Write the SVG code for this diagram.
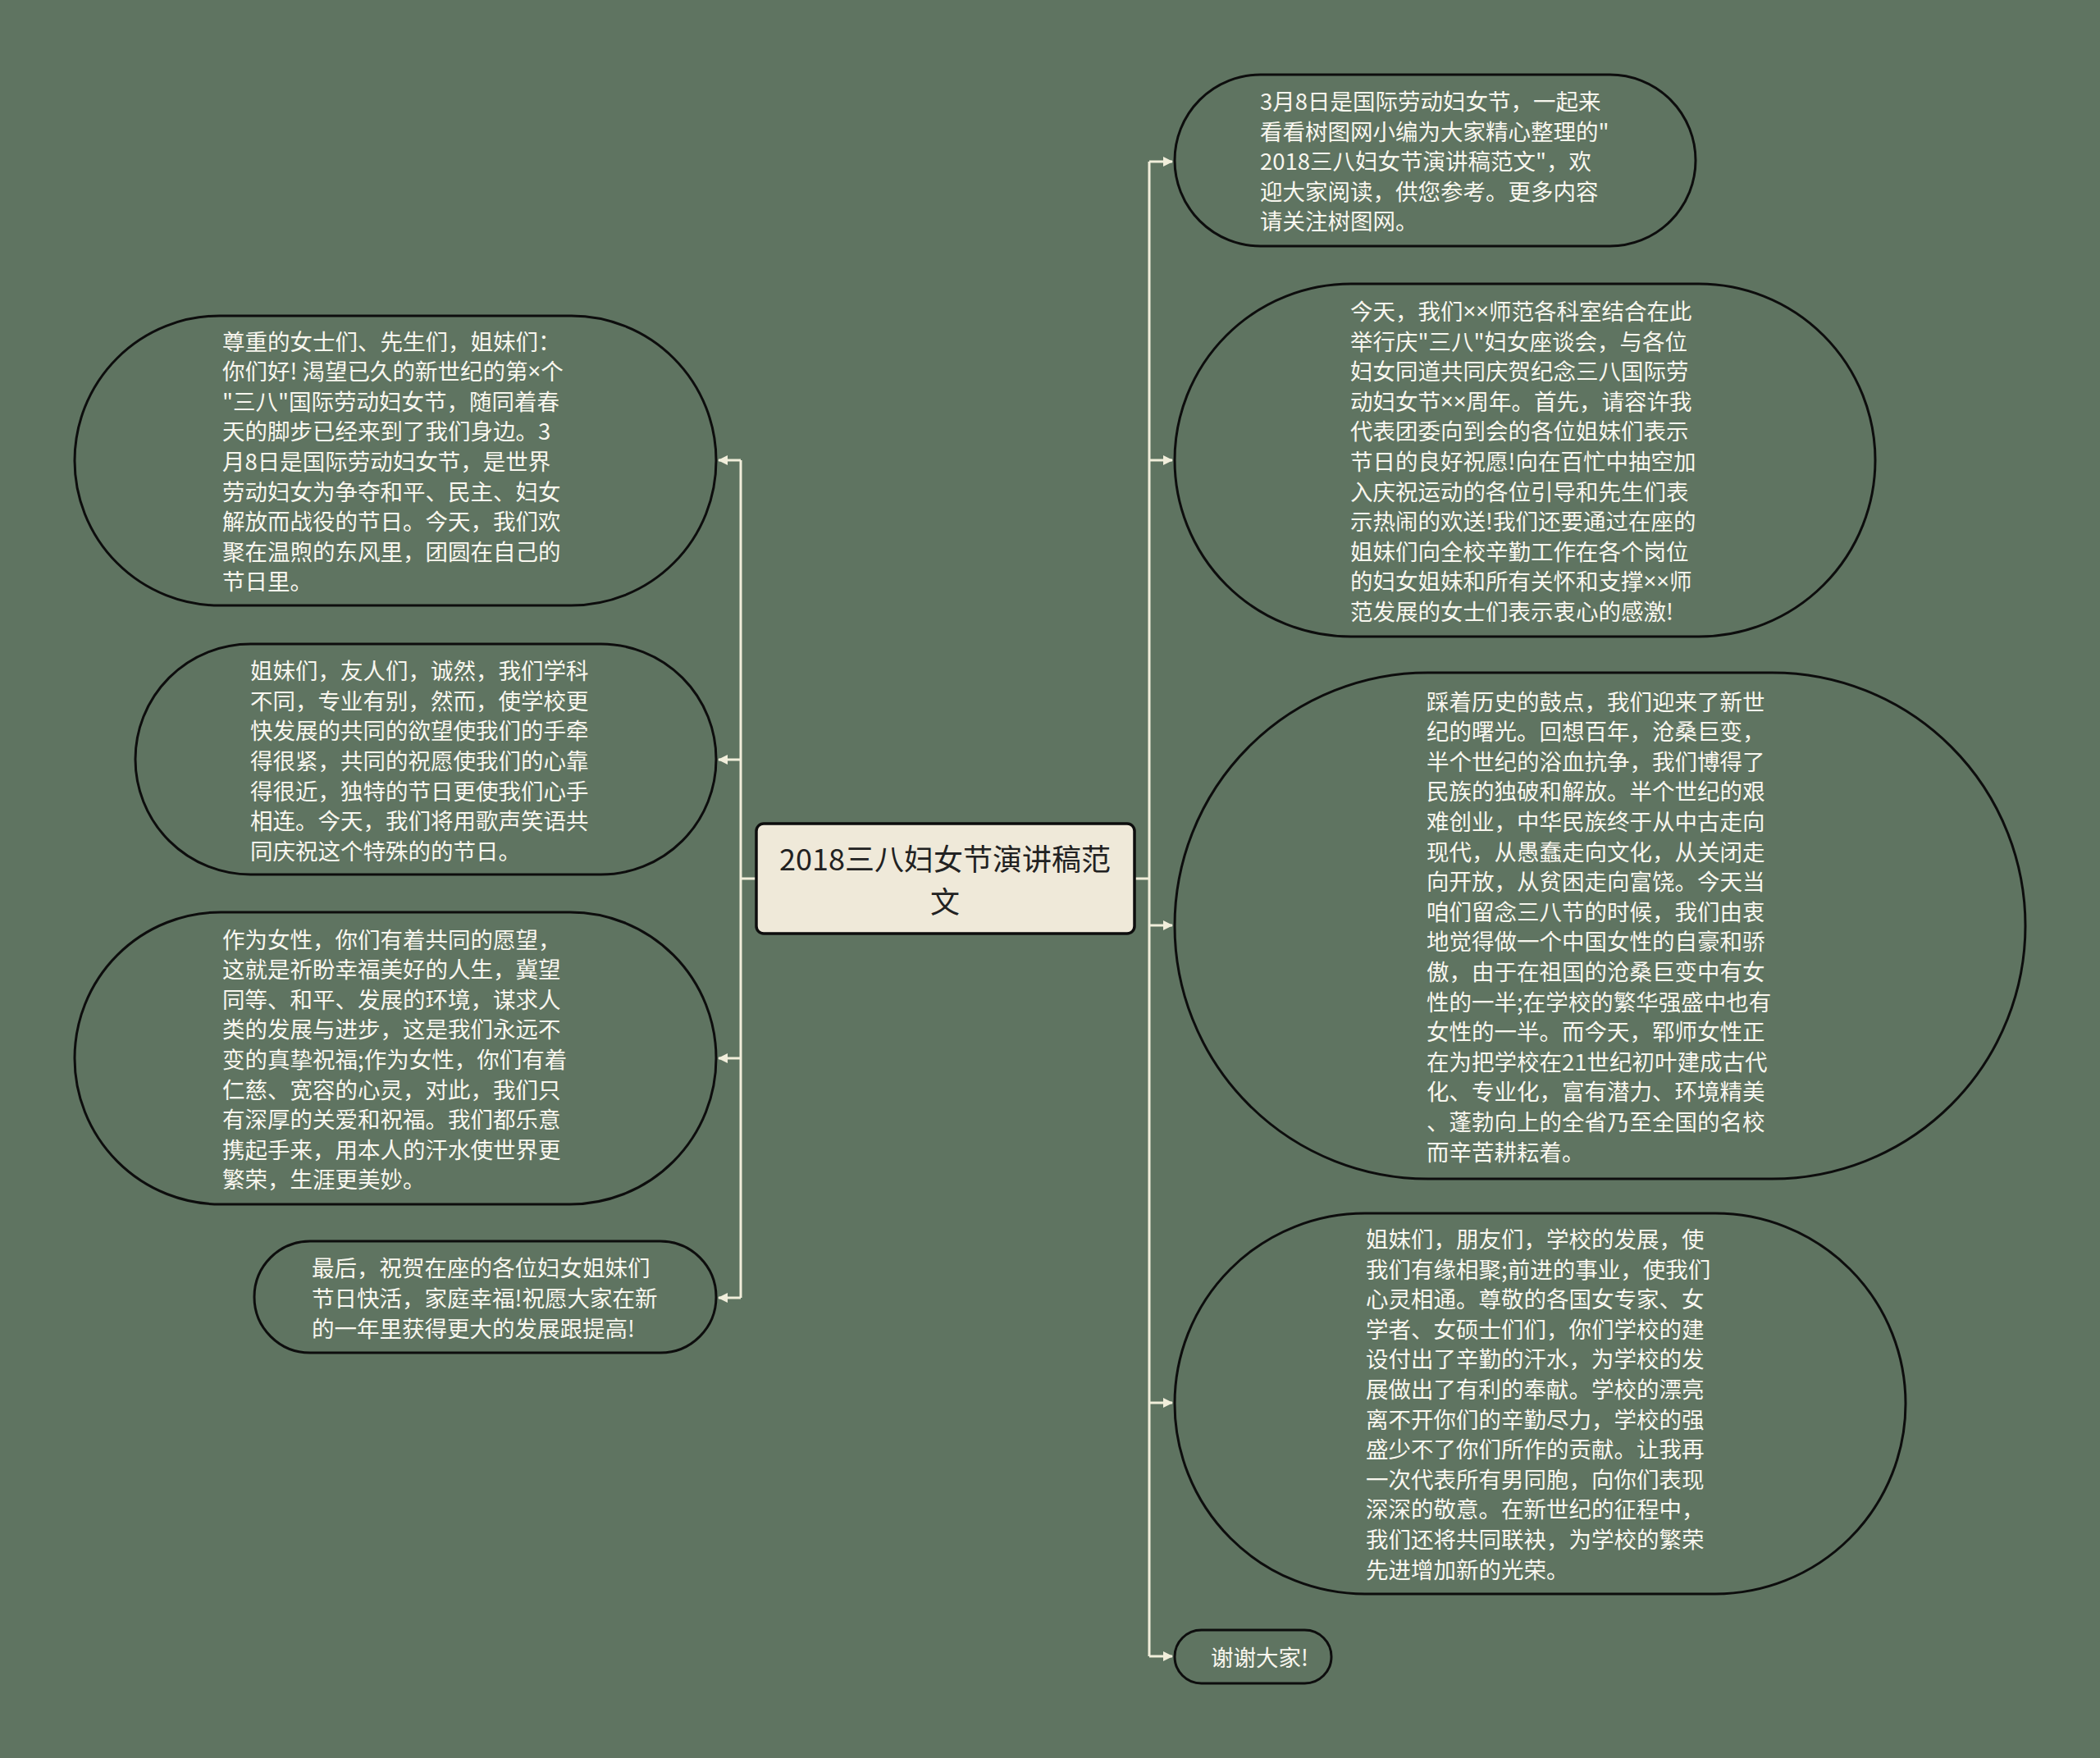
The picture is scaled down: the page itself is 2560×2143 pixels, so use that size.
<svg xmlns="http://www.w3.org/2000/svg" width="2560" height="2143" viewBox="0 0 2560 2143">
<style>
.bg{fill:#5f7461}
.node{fill:#5f7461;stroke:#0d0d0d;stroke-width:3}
.root{fill:#efe9d9;stroke:#0d0d0d;stroke-width:3.5}
.t{font-family:"Noto Sans CJK SC","Noto Sans",sans-serif;font-size:27.5px;fill:#f8f6ee;dominant-baseline:central}
.x{font-family:"Noto Sans","DejaVu Sans",sans-serif}
.rt{font-family:"Noto Sans CJK SC","Noto Sans",sans-serif;font-size:36px;fill:#222;dominant-baseline:central;text-anchor:middle}
.c{fill:none;stroke:#f1eedb;stroke-width:3}
</style>
<defs>
<marker id="ah" viewBox="0 0 12 12" refX="11" refY="6" markerWidth="12" markerHeight="12" markerUnits="userSpaceOnUse" orient="auto">
<path d="M0,0 L12,6 L0,12 Z" fill="#f1eedb"/>
</marker>
</defs>
<rect class="bg" x="0" y="0" width="2560" height="2143"/>
<g id="connectors">
<path class="c" d="M1383,1071 H1401"/>
<path class="c" d="M1401,197 V2019"/>
<path class="c" d="M1401,197 H1429" marker-end="url(#ah)"/>
<path class="c" d="M1401,561 H1429" marker-end="url(#ah)"/>
<path class="c" d="M1401,1128 H1429" marker-end="url(#ah)"/>
<path class="c" d="M1401,1710 H1429" marker-end="url(#ah)"/>
<path class="c" d="M1401,2019 H1429" marker-end="url(#ah)"/>
<path class="c" d="M922,1071 H903"/>
<path class="c" d="M903,561 V1582"/>
<path class="c" d="M903,561 H876" marker-end="url(#ah)"/>
<path class="c" d="M903,926 H876" marker-end="url(#ah)"/>
<path class="c" d="M903,1290 H876" marker-end="url(#ah)"/>
<path class="c" d="M903,1582 H876" marker-end="url(#ah)"/>
</g>
<g id="root">
<rect class="root" x="922" y="1004" width="461" height="134" rx="9"/>
<text class="rt"><tspan x="1152" y="1045">2018三八妇女节演讲稿范</tspan><tspan x="1152" y="1097">文</tspan></text>
</g>
<g id="r1">
<rect class="node" x="1432" y="91" width="635" height="209" rx="104.5"/>
<text class="t"><tspan x="1536" y="122">3月8日是国际劳动妇女节，一起来</tspan><tspan x="1536" y="158.6">看看树图网小编为大家精心整理的"</tspan><tspan x="1536" y="195.2">2018三八妇女节演讲稿范文"，欢</tspan><tspan x="1536" y="231.8">迎大家阅读，供您参考。更多内容</tspan><tspan x="1536" y="268.4">请关注树图网。</tspan></text>
</g>
<g id="r2">
<rect class="node" x="1432" y="346" width="854" height="430" rx="215"/>
<text class="t"><tspan x="1646" y="378">今天，我们<tspan class="x">××</tspan>师范各科室结合在此</tspan><tspan x="1646" y="414.6">举行庆"三八"妇女座谈会，与各位</tspan><tspan x="1646" y="451.2">妇女同道共同庆贺纪念三八国际劳</tspan><tspan x="1646" y="487.8">动妇女节<tspan class="x">××</tspan>周年。首先，请容许我</tspan><tspan x="1646" y="524.4">代表团委向到会的各位姐妹们表示</tspan><tspan x="1646" y="561">节日的良好祝愿!向在百忙中抽空加</tspan><tspan x="1646" y="597.6">入庆祝运动的各位引导和先生们表</tspan><tspan x="1646" y="634.2">示热闹的欢送!我们还要通过在座的</tspan><tspan x="1646" y="670.8">姐妹们向全校辛勤工作在各个岗位</tspan><tspan x="1646" y="707.4">的妇女姐妹和所有关怀和支撑<tspan class="x">××</tspan>师</tspan><tspan x="1646" y="744">范发展的女士们表示衷心的感激!</tspan></text>
</g>
<g id="r3">
<rect class="node" x="1432" y="820" width="1037" height="617" rx="308.5"/>
<text class="t"><tspan x="1739" y="853.5">踩着历史的鼓点，我们迎来了新世</tspan><tspan x="1739" y="890.1">纪的曙光。回想百年，沧桑巨变，</tspan><tspan x="1739" y="926.7">半个世纪的浴血抗争，我们博得了</tspan><tspan x="1739" y="963.3">民族的独破和解放。半个世纪的艰</tspan><tspan x="1739" y="999.9">难创业，中华民族终于从中古走向</tspan><tspan x="1739" y="1036.5">现代，从愚蠢走向文化，从关闭走</tspan><tspan x="1739" y="1073.1">向开放，从贫困走向富饶。今天当</tspan><tspan x="1739" y="1109.7">咱们留念三八节的时候，我们由衷</tspan><tspan x="1739" y="1146.3">地觉得做一个中国女性的自豪和骄</tspan><tspan x="1739" y="1182.9">傲，由于在祖国的沧桑巨变中有女</tspan><tspan x="1739" y="1219.5">性的一半;在学校的繁华强盛中也有</tspan><tspan x="1739" y="1256.1">女性的一半。而今天，郓师女性正</tspan><tspan x="1739" y="1292.7">在为把学校在21世纪初叶建成古代</tspan><tspan x="1739" y="1329.3">化、专业化，富有潜力、环境精美</tspan><tspan x="1739" y="1365.9">、蓬勃向上的全省乃至全国的名校</tspan><tspan x="1739" y="1402.5">而辛苦耕耘着。</tspan></text>
</g>
<g id="r4">
<rect class="node" x="1432" y="1479" width="891" height="464" rx="232"/>
<text class="t"><tspan x="1665" y="1509">姐妹们，朋友们，学校的发展，使</tspan><tspan x="1665" y="1545.6">我们有缘相聚;前进的事业，使我们</tspan><tspan x="1665" y="1582.2">心灵相通。尊敬的各国女专家、女</tspan><tspan x="1665" y="1618.8">学者、女硕士们们，你们学校的建</tspan><tspan x="1665" y="1655.4">设付出了辛勤的汗水，为学校的发</tspan><tspan x="1665" y="1692">展做出了有利的奉献。学校的漂亮</tspan><tspan x="1665" y="1728.6">离不开你们的辛勤尽力，学校的强</tspan><tspan x="1665" y="1765.2">盛少不了你们所作的贡献。让我再</tspan><tspan x="1665" y="1801.8">一次代表所有男同胞，向你们表现</tspan><tspan x="1665" y="1838.4">深深的敬意。在新世纪的征程中，</tspan><tspan x="1665" y="1875">我们还将共同联袂，为学校的繁荣</tspan><tspan x="1665" y="1911.6">先进增加新的光荣。</tspan></text>
</g>
<g id="r5">
<rect class="node" x="1432" y="1987" width="191" height="65" rx="32.5"/>
<text class="t"><tspan x="1476" y="2019">谢谢大家!</tspan></text>
</g>
<g id="l1">
<rect class="node" x="91" y="385" width="782" height="353" rx="176.5"/>
<text class="t"><tspan x="271" y="414.6">尊重的女士们、先生们，姐妹们：</tspan><tspan x="271" y="451.2">你们好! 渴望已久的新世纪的第<tspan class="x">×</tspan>个</tspan><tspan x="271" y="487.8">"三八"国际劳动妇女节，随同着春</tspan><tspan x="271" y="524.4">天的脚步已经来到了我们身边。3</tspan><tspan x="271" y="561">月8日是国际劳动妇女节，是世界</tspan><tspan x="271" y="597.6">劳动妇女为争夺和平、民主、妇女</tspan><tspan x="271" y="634.2">解放而战役的节日。今天，我们欢</tspan><tspan x="271" y="670.8">聚在温煦的东风里，团圆在自己的</tspan><tspan x="271" y="707.4">节日里。</tspan></text>
</g>
<g id="l2">
<rect class="node" x="165" y="785" width="708" height="281" rx="140.5"/>
<text class="t"><tspan x="305" y="816.2">姐妹们，友人们，诚然，我们学科</tspan><tspan x="305" y="852.8">不同，专业有别，然而，使学校更</tspan><tspan x="305" y="889.4">快发展的共同的欲望使我们的手牵</tspan><tspan x="305" y="926">得很紧，共同的祝愿使我们的心靠</tspan><tspan x="305" y="962.6">得很近，独特的节日更使我们心手</tspan><tspan x="305" y="999.2">相连。今天，我们将用歌声笑语共</tspan><tspan x="305" y="1035.8">同庆祝这个特殊的的节日。</tspan></text>
</g>
<g id="l3">
<rect class="node" x="91" y="1112" width="782" height="356" rx="178"/>
<text class="t"><tspan x="271" y="1143.6">作为女性，你们有着共同的愿望，</tspan><tspan x="271" y="1180.2">这就是祈盼幸福美好的人生，冀望</tspan><tspan x="271" y="1216.8">同等、和平、发展的环境，谋求人</tspan><tspan x="271" y="1253.4">类的发展与进步，这是我们永远不</tspan><tspan x="271" y="1290">变的真挚祝福;作为女性，你们有着</tspan><tspan x="271" y="1326.6">仁慈、宽容的心灵，对此，我们只</tspan><tspan x="271" y="1363.2">有深厚的关爱和祝福。我们都乐意</tspan><tspan x="271" y="1399.8">携起手来，用本人的汗水使世界更</tspan><tspan x="271" y="1436.4">繁荣，生涯更美妙。</tspan></text>
</g>
<g id="l4">
<rect class="node" x="310" y="1513" width="563" height="136" rx="68"/>
<text class="t"><tspan x="380" y="1544.4">最后，祝贺在座的各位妇女姐妹们</tspan><tspan x="380" y="1581">节日快活，家庭幸福!祝愿大家在新</tspan><tspan x="380" y="1617.6">的一年里获得更大的发展跟提高!</tspan></text>
</g>
</svg>
